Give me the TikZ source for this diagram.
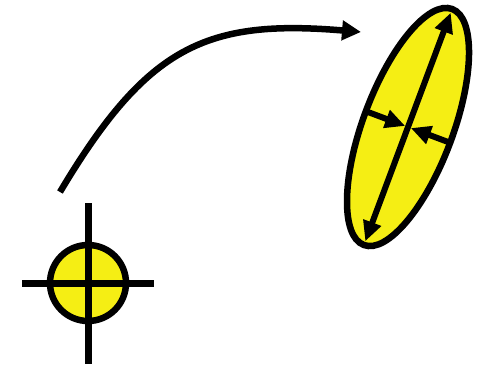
\documentclass[tikz,border=0pt]{standalone}
\usetikzlibrary{arrows.meta}
\definecolor{fillyellow}{RGB}{245,238,20}
\begin{document}
\begin{tikzpicture}[x=1pt,y=1pt,
  outline/.style={draw=black, line width=6.5pt, fill=fillyellow},
  crossline/.style={draw=black, line width=7pt},
  bigarrow/.style={line width=6.5pt, -{Triangle[length=19pt,width=19pt]}},
  axisarrow/.style={line width=6pt, {Triangle[length=20pt,width=18pt]}-{Triangle[length=20pt,width=18pt]}},
  inarrow/.style={line width=6pt, -{Triangle[length=20pt,width=18pt]}}]
\useasboundingbox (0,0) rectangle (484,-364);
% small circle with crosshair
\node[circle, outline, minimum size=76pt, inner sep=0pt] (dot) at (88,-283) {};
\coordinate (hl) at (22,-283);
\coordinate (hr) at (154,-283);
\coordinate (vt) at (88,-203);
\coordinate (vb) at (88,-364);
\draw[crossline] (hl) -- (hr);
\draw[crossline] (vt) -- (vb);
% curved arrow
\coordinate (start) at (60,-192);
\coordinate (end) at (361,-32);
\draw[bigarrow] (start) .. controls (147,-46) and (206,-19) .. (end);
% ellipse
\begin{scope}[shift={(408,-127)}, rotate=69.5]
\draw[outline] (0,0) ellipse [x radius=126, y radius=45];
\coordinate (tipA) at (122,0);
\coordinate (tipB) at (-122,0);
\coordinate (sideL) at (0,45);
\coordinate (sideR) at (0,-45);
\coordinate (cL) at (0,3);
\coordinate (cR) at (0,-3);
\draw[axisarrow] (tipB) -- (tipA);
\draw[inarrow] (sideL) -- (cL);
\draw[inarrow] (sideR) -- (cR);
\end{scope}
\end{tikzpicture}
\end{document}
